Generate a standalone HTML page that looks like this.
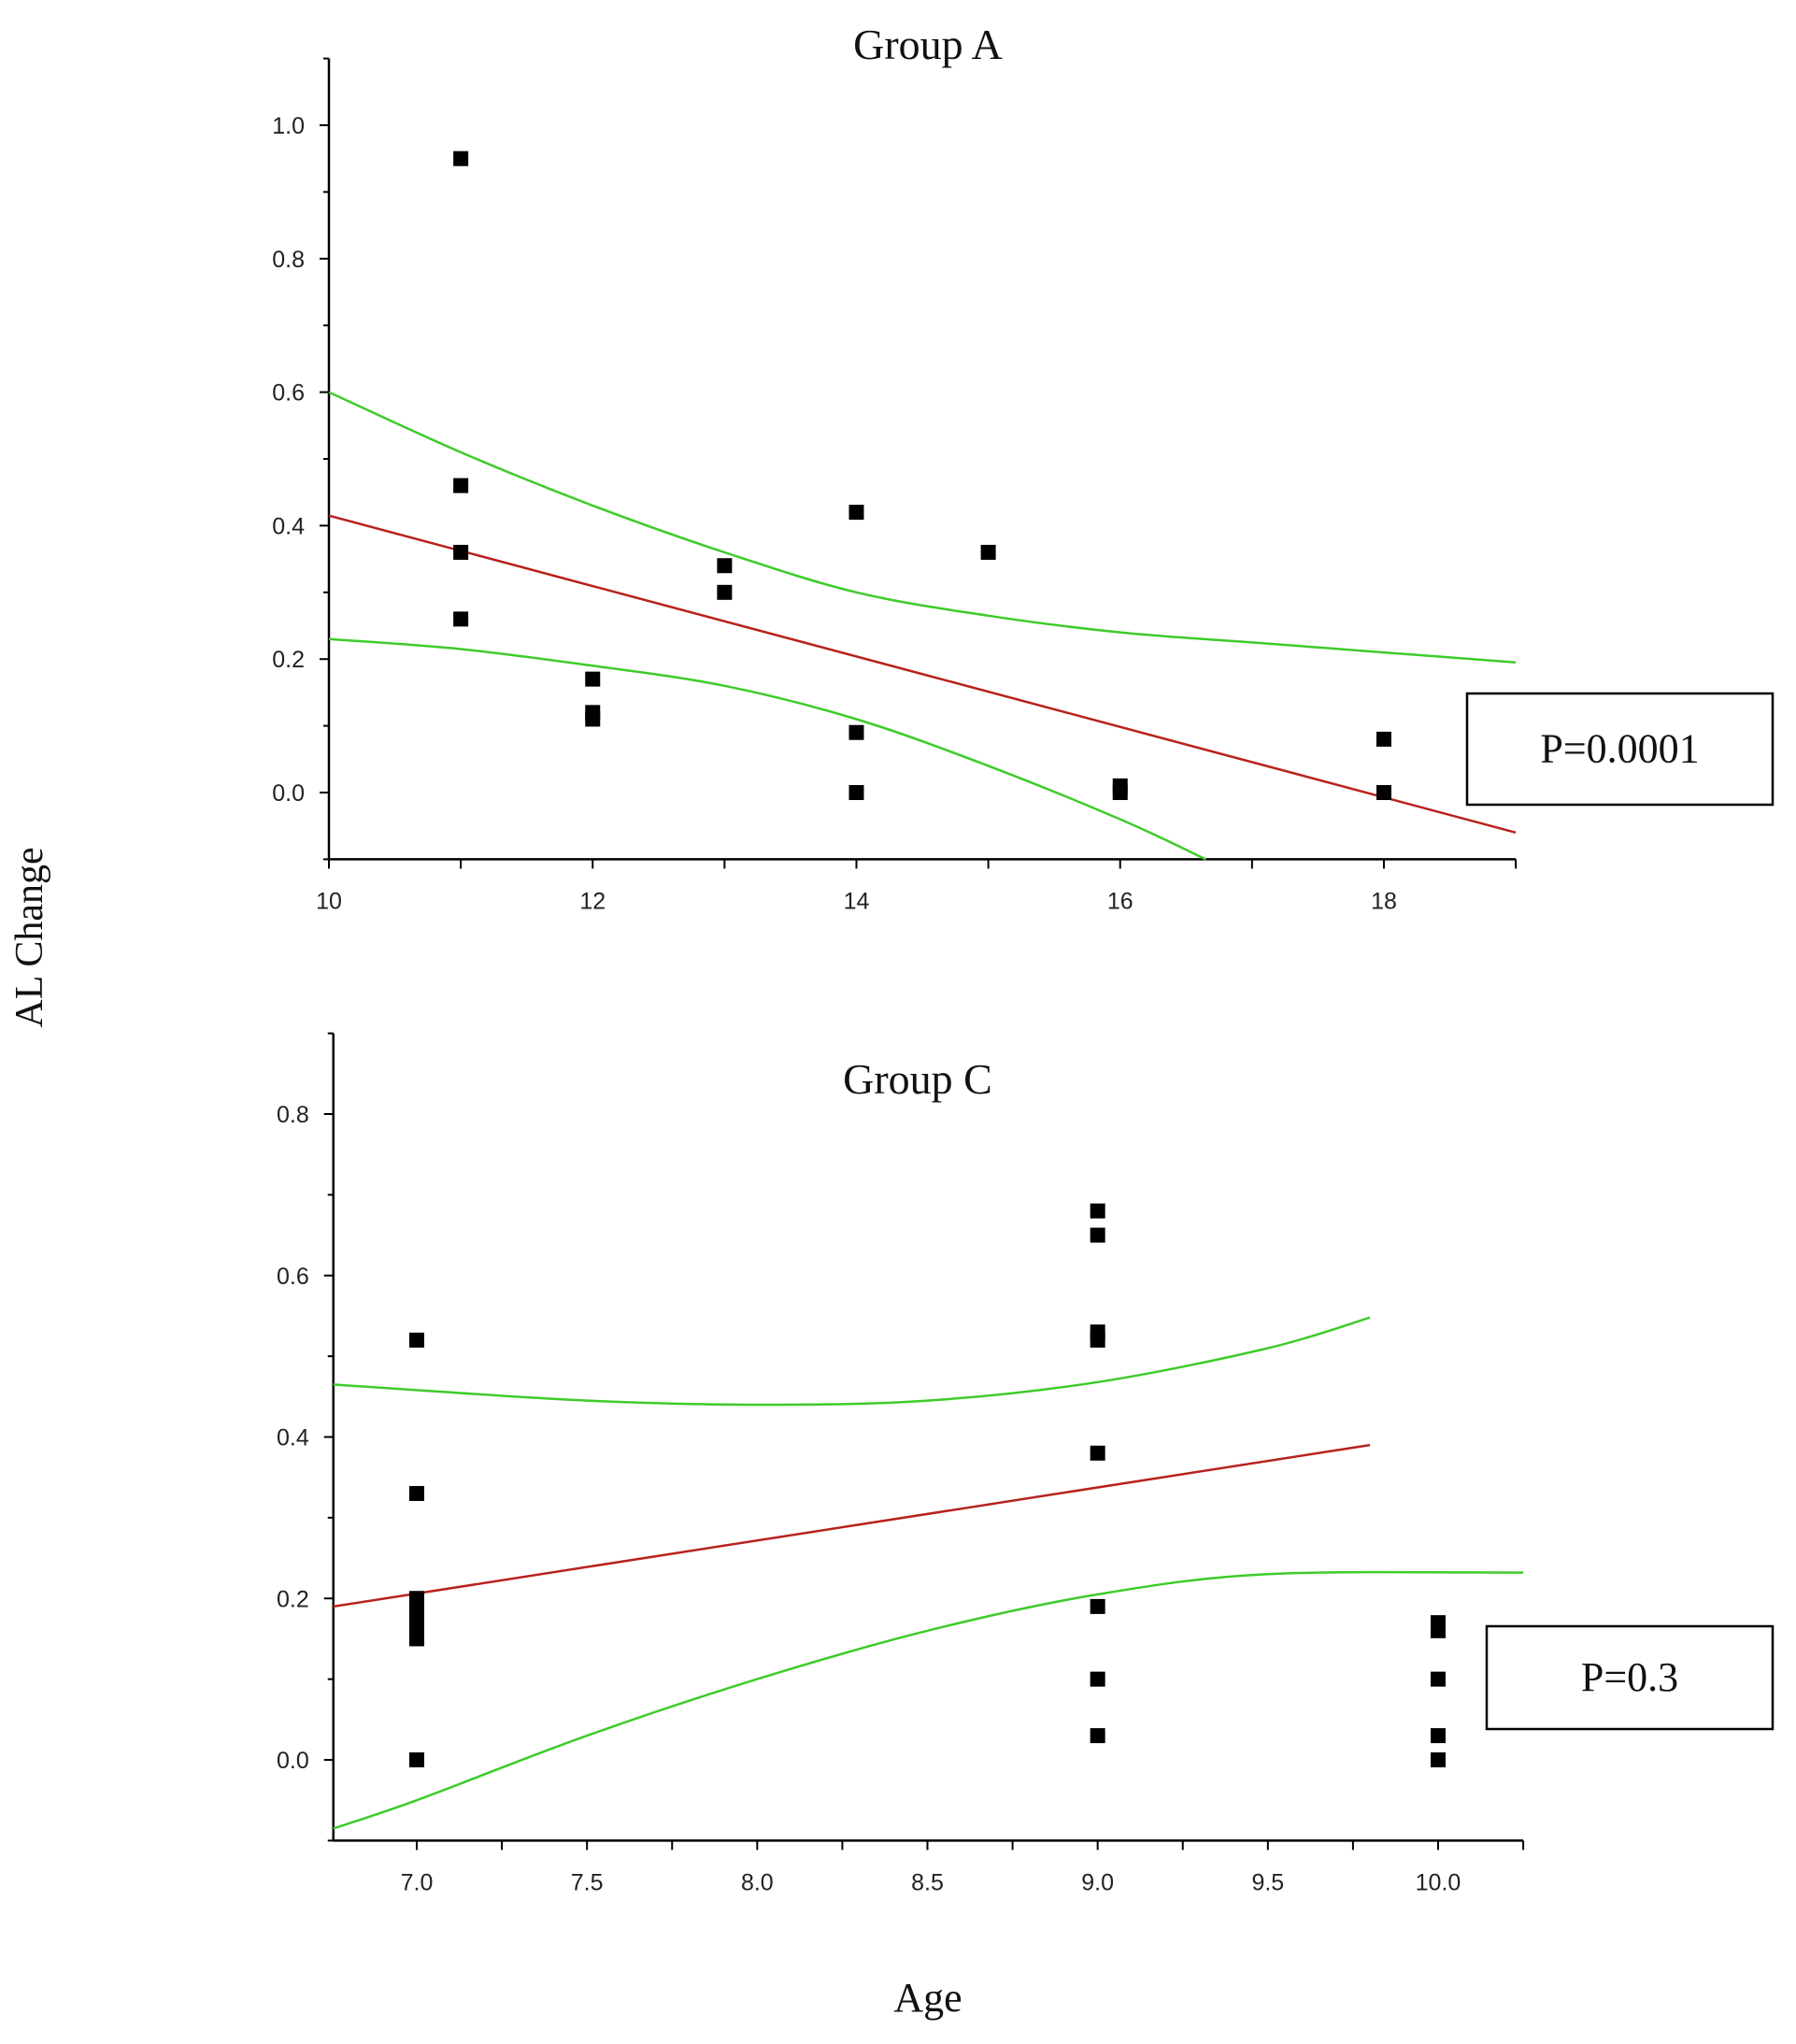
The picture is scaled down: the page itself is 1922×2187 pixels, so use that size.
<!DOCTYPE html>
<html><head><meta charset="utf-8"><style>
html,body{margin:0;padding:0;background:#fff;}
svg{display:block;}
</style></head><body>
<svg id="chart" width="1922" height="2187" viewBox="0 0 1922 2187" xmlns="http://www.w3.org/2000/svg">
<text x="45" y="1003" transform="rotate(-90 45 1003)" text-anchor="middle" font-family="Liberation Serif, serif" font-size="42" fill="#111">AL Change</text>
<text x="993" y="2152" text-anchor="middle" font-family="Liberation Serif, serif" font-size="44" fill="#111">Age</text>
</svg>
<script>
// Group A data
const aX = [11,11,11,11,12,12,12,13,13,14,14,14,15,16,16,18,18];
const aY = [0.95,0.46,0.36,0.26,0.17,0.12,0.11,0.34,0.30,0.42,0.09,0.0,0.36,0.01,0.0,0.08,0.0];
const aFitX = [10,19];
const aFitY = [0.415,-0.06];
const aUpX = [10,11,12,13,14,15,16,17,18,19];
const aUpY = [0.6,0.51,0.43,0.36,0.30,0.265,0.24,0.225,0.21,0.195];
const aLoX = [10,11,12,13,14,15,16,16.65];
const aLoY = [0.23,0.215,0.19,0.16,0.11,0.04,-0.04,-0.1];
const aXTicks = [10,12,14,16,18];
const aYTicks = ["0.0","0.2","0.4","0.6","0.8","1.0"];
// Group C data
const cX = [7,7,7,7,7,7,7,7,7,9,9,9,9,9,9,9,9,10,10,10,10,10];
const cY = [0.52,0.33,0.2,0.19,0.18,0.17,0.16,0.15,0.0,0.68,0.65,0.53,0.52,0.38,0.19,0.1,0.03,0.17,0.16,0.1,0.03,0.0];
const cFitX = [6.755,9.8];
const cFitY = [0.19,0.39];
const cUpX = [6.755,7,7.5,8,8.5,9,9.5,9.8];
const cUpY = [0.465,0.458,0.445,0.44,0.445,0.468,0.51,0.548];
const cLoX = [6.755,7,7.5,8,8.5,9,9.5,10.25];
const cLoY = [-0.085,-0.05,0.03,0.1,0.16,0.205,0.23,0.232];
const cXTicks = ["7.0","7.5","8.0","8.5","9.0","9.5","10.0"];
const cYTicks = ["0.0","0.2","0.4","0.6","0.8"];

const NS="http://www.w3.org/2000/svg";
const svg=document.getElementById('chart');
function mk(tag,attrs){const e=document.createElementNS(NS,tag);for(const k in attrs)e.setAttribute(k,attrs[k]);svg.appendChild(e);return e;}

function smooth(pts){
  let d='M'+pts[0][0].toFixed(1)+' '+pts[0][1].toFixed(1);
  for(let i=0;i<pts.length-1;i++){
    const p0=pts[Math.max(0,i-1)],p1=pts[i],p2=pts[i+1],p3=pts[Math.min(pts.length-1,i+2)];
    const c1=[p1[0]+(p2[0]-p0[0])/6,p1[1]+(p2[1]-p0[1])/6];
    const c2=[p2[0]-(p3[0]-p1[0])/6,p2[1]-(p3[1]-p1[1])/6];
    d+=' C'+c1[0].toFixed(1)+' '+c1[1].toFixed(1)+' '+c2[0].toFixed(1)+' '+c2[1].toFixed(1)+' '+p2[0].toFixed(1)+' '+p2[1].toFixed(1);
  }
  return d;
}

function panel(o){
  const sx=v=>o.px0+(v-o.x0)*(o.px1-o.px0)/(o.x1-o.x0);
  const sy=v=>o.py0+(v-o.y0)*(o.py1-o.py0)/(o.y1-o.y0);
  const left=sx(o.xmin), right=sx(o.xmax), bottom=sy(o.ymin), top=sy(o.ymax);
  let e=mk('line',{x1:left,y1:top,x2:left,y2:bottom,stroke:'#000','stroke-width':2.5});
  
  
  e=mk('line',{x1:left,y1:bottom,x2:right,y2:bottom,stroke:'#000','stroke-width':2.5});
  
  
  for(let v=o.ymin;v<=o.ymax+1e-9;v+=0.1){
    const major=Math.abs(Math.round(v*10)%2)===0;
    e=mk('line',{x1:left-(major?10:6),y1:sy(v),x2:left,y2:sy(v),stroke:'#000','stroke-width':2});
    
    
  }
  o.yTicks.forEach(t=>{
    e=mk('text',{x:left-26,y:sy(parseFloat(t))+9,'text-anchor':'end','font-family':'Liberation Sans, sans-serif','font-size':25,fill:'#222'});
    e.textContent=t;
    
    
  });
  for(let v=Math.ceil(o.xmin/o.xstep)*o.xstep;v<=o.xmax+1e-9;v+=o.xstep){
    e=mk('line',{x1:sx(v),y1:bottom,x2:sx(v),y2:bottom+10,stroke:'#000','stroke-width':2});
    
    
  }
  o.xTicks.forEach(t=>{
    e=mk('text',{x:sx(parseFloat(t)),y:bottom+53,'text-anchor':'middle','font-family':'Liberation Sans, sans-serif','font-size':25,fill:'#222'});
    e.textContent=t;
    
    
  });
  const pts=(xs,ys)=>xs.map((x,i)=>[sx(x),sy(ys[i])]);
  e=mk('path',{d:smooth(pts(o.upX,o.upY)),fill:'none',stroke:'#3ecb2a','stroke-width':2.5});
  
  
  e=mk('path',{d:smooth(pts(o.loX,o.loY)),fill:'none',stroke:'#3ecb2a','stroke-width':2.5});
  
  
  e=mk('path',{d:smooth(pts(o.fitX,o.fitY)),fill:'none',stroke:'#b8221c','stroke-width':2.5});
  
  
  o.xs.forEach((x,i)=>{
    e=mk('rect',{x:sx(x)-8,y:sy(o.ys[i])-8,width:16,height:16,fill:'#000'});
    
    
  });
  e=mk('text',{x:o.titleX,y:o.titleY,'text-anchor':'middle','font-family':'Liberation Serif, serif','font-size':46,fill:'#111'});
  e.textContent=o.title;
  
  
  e=mk('rect',{x:o.box[0],y:o.box[1],width:o.box[2],height:o.box[3],fill:'#fff',stroke:'#000','stroke-width':2.5});
  
  
  e=mk('text',{x:o.box[0]+o.box[2]/2,y:o.box[1]+o.box[3]/2+14,'text-anchor':'middle','font-family':'Liberation Serif, serif','font-size':44,fill:'#111'});
  e.textContent=o.p;
  
  
}
panel({id:'group-a',x0:10,x1:18,px0:352,px1:1481,y0:0,y1:1,py0:848,py1:134,xmin:10,xmax:19,ymin:-0.1,ymax:1.1,xstep:1,
  xTicks:aXTicks.map(String),yTicks:aYTicks,xs:aX,ys:aY,fitX:aFitX,fitY:aFitY,upX:aUpX,upY:aUpY,loX:aLoX,loY:aLoY,
  title:'Group A',titleX:993,titleY:63,box:[1570,742,327,119],p:'P=0.0001'});
panel({id:'group-c',x0:7,x1:10,px0:446,px1:1539,y0:0,y1:0.8,py0:1883,py1:1192,xmin:6.755,xmax:10.25,ymin:-0.1,ymax:0.9,xstep:0.25,
  xTicks:cXTicks,yTicks:cYTicks,xs:cX,ys:cY,fitX:cFitX,fitY:cFitY,upX:cUpX,upY:cUpY,loX:cLoX,loY:cLoY,
  title:'Group C',titleX:982,titleY:1170,box:[1591,1740,306,110],p:'P=0.3'});
</script>
</body></html>
